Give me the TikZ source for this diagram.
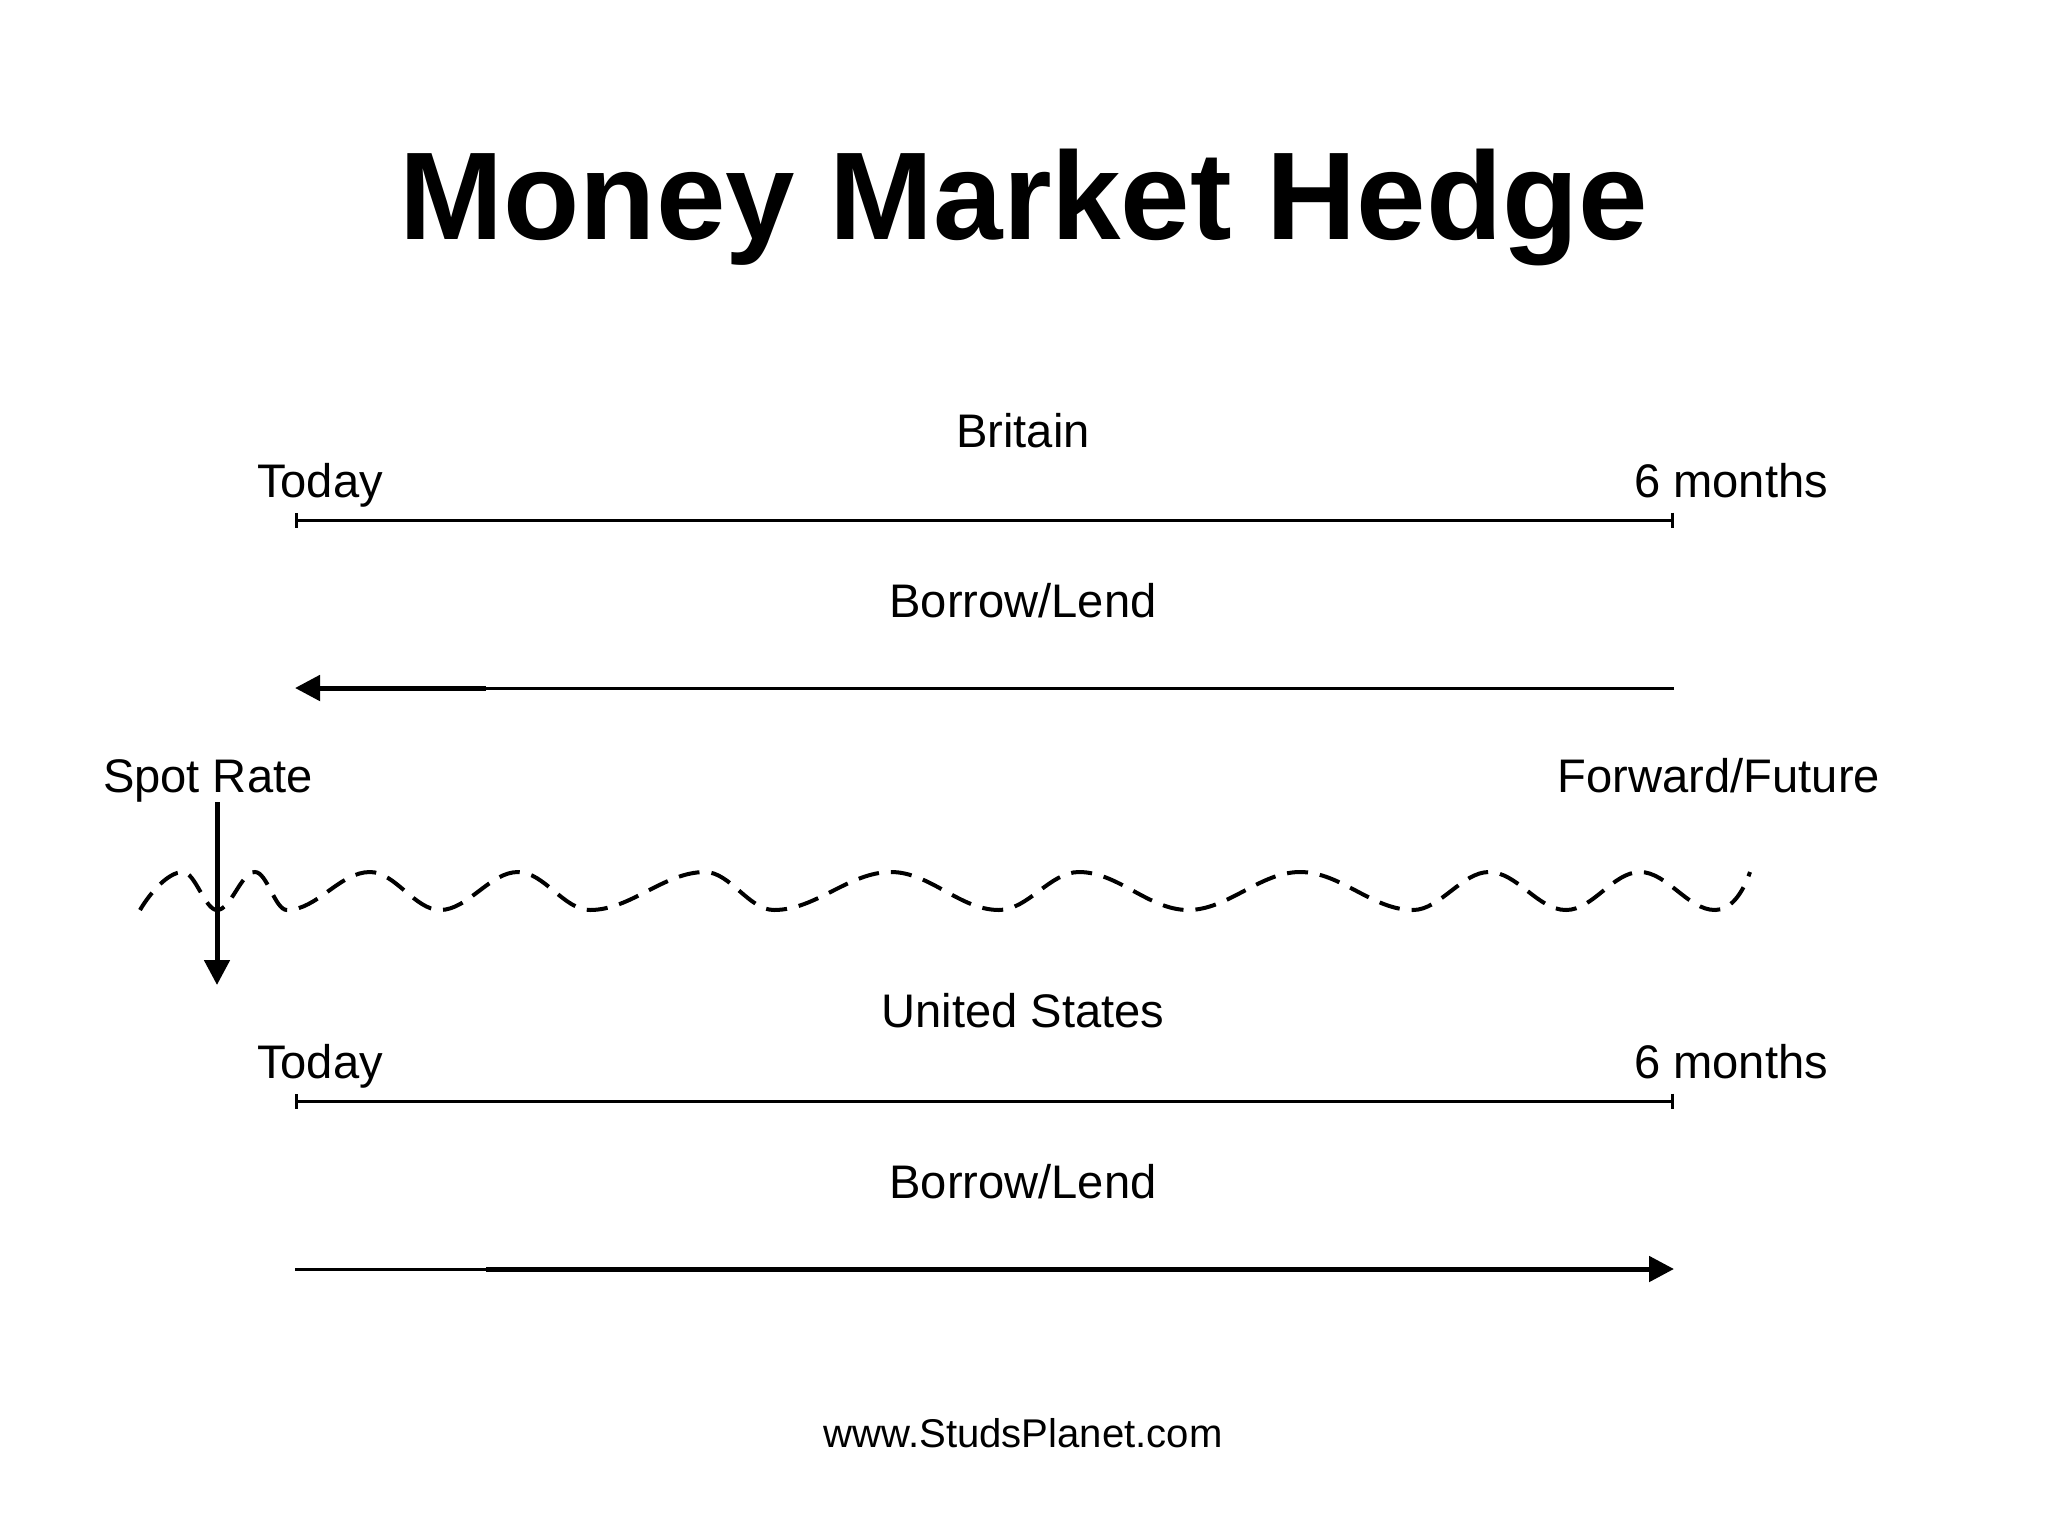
\documentclass[tikz,border=0pt]{standalone}
\usepackage{fontspec}
\setmainfont{Liberation Sans}
\usetikzlibrary{arrows.meta}
\begin{document}
\begin{tikzpicture}[x=0.01cm,y=-0.01cm,
  lbl/.style={inner sep=0pt,outer sep=0pt,font=\fontsize{13.4}{15}\selectfont},
  ttl/.style={inner sep=0pt,outer sep=0pt,font=\fontsize{35.5}{40}\selectfont\bfseries},
  url/.style={inner sep=0pt,outer sep=0pt,font=\fontsize{11.4}{13}\selectfont},
  timeline/.style={line width=0.03cm,{Bar[width=0.15cm]}-{Bar[width=0.15cm]}},
  thinpart/.style={line width=0.03cm},
  thickpart/.style={line width=0.05cm},
  tip/.style={-{Triangle[length=0.25cm,width=0.25cm]}},
  wave/.style={line width=0.04cm,dash pattern=on 0.21cm off 0.12cm}]
\useasboundingbox (0,0) rectangle (2048,1536);
\fill[white] (0,0) rectangle (2048,1536);

% title
\node[ttl,anchor=base] (title) at (1024,239) {Money Market Hedge};

% Britain
\node[lbl,anchor=base] (britain) at (1023,447) {Britain};
\node[lbl,anchor=base west] (today1) at (257,497) {Today};
\node[lbl,anchor=base east] (six1) at (1828,497) {6 months};
\coordinate (t1L) at (295,520);
\coordinate (t1R) at (1674,520);
\draw[timeline] (t1L) -- (t1R);
\node[lbl,anchor=base] (bl1) at (1023,617) {Borrow/Lend};
\coordinate (a1R) at (1674,688);
\coordinate (a1M) at (486,688);
\coordinate (a1L) at (295,688);
\draw[thinpart] (a1R) -- (a1M);
\draw[thickpart,tip] (a1M) -- (a1L);

% spot / forward
\node[lbl,anchor=base west] (spot) at (103,792) {Spot Rate};
\node[lbl,anchor=base east] (fwd) at (1880,792) {Forward/Future};
\coordinate (spotTop) at (217,802);
\coordinate (spotTip) at (217,985);
\draw[thickpart,tip] (spotTop) -- (spotTip);

% wave
\draw[wave] (140,910) .. controls (150,893) and (168,872) .. (183,872)
  .. controls +(12,0) and +(-12,0) .. (217,910)
  .. controls +(14,0) and +(-14,0) .. (255,872)
  .. controls +(12,0) and +(-12,0) .. (287,910)
  .. controls +(30,0) and +(-30,0) .. (370,872)
  .. controls +(25,0) and +(-25,0) .. (440,910)
  .. controls +(28,0) and +(-28,0) .. (518,872)
  .. controls +(26,0) and +(-26,0) .. (590,910)
  .. controls +(41,0) and +(-41,0) .. (705,872)
  .. controls +(25,0) and +(-25,0) .. (774,910)
  .. controls +(42,0) and +(-42,0) .. (891,872)
  .. controls +(39,0) and +(-39,0) .. (999,910)
  .. controls +(29,0) and +(-29,0) .. (1079,872)
  .. controls +(39,0) and +(-39,0) .. (1188,910)
  .. controls +(40,0) and +(-40,0) .. (1300,872)
  .. controls +(41,0) and +(-41,0) .. (1413,910)
  .. controls +(27,0) and +(-27,0) .. (1489,872)
  .. controls +(28,0) and +(-28,0) .. (1566,910)
  .. controls +(27,0) and +(-27,0) .. (1640,872)
  .. controls +(27,0) and +(-27,0) .. (1715,910)
  .. controls (1730,910) and (1742,895) .. (1750,872);

% United States
\node[lbl,anchor=base] (us) at (1023,1027) {United States};
\node[lbl,anchor=base west] (today2) at (257,1078) {Today};
\node[lbl,anchor=base east] (six2) at (1828,1078) {6 months};
\coordinate (t2L) at (295,1101);
\coordinate (t2R) at (1674,1101);
\draw[timeline] (t2L) -- (t2R);
\node[lbl,anchor=base] (bl2) at (1023,1198) {Borrow/Lend};
\coordinate (a2L) at (295,1269);
\coordinate (a2M) at (486,1269);
\coordinate (a2R) at (1674,1269);
\draw[thinpart] (a2L) -- (a2M);
\draw[thickpart,tip] (a2M) -- (a2R);

% footer
\node[url,anchor=base] (site) at (1023,1447) {www.StudsPlanet.com};
\end{tikzpicture}
\end{document}
